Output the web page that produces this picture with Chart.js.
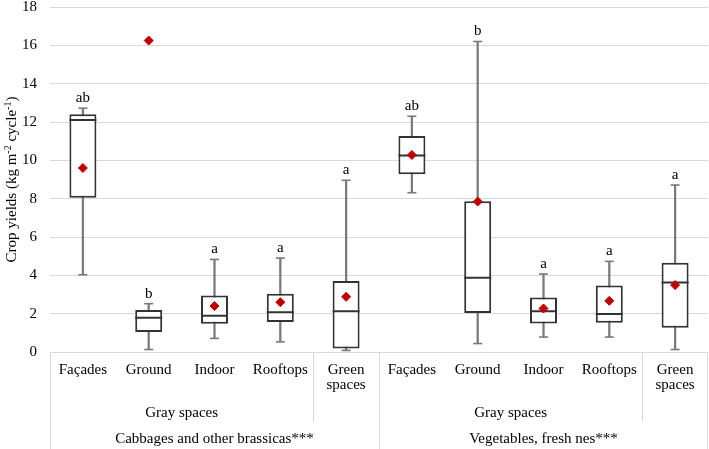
<!DOCTYPE html>
<html>
<head>
<meta charset="utf-8">
<script src="https://cdn.jsdelivr.net/npm/chart.js@4"></script>
<style>
  html, body { margin: 0; padding: 0; background: #fff; }
  #wrap { width: 709px; height: 449px; }
</style>
</head>
<body>
<div id="wrap"><canvas id="chart"></canvas></div>
<script>
// categories (two crop groups, five spaces each)
const categories = ['Façades', 'Ground', 'Indoor', 'Rooftops', ['Green', 'spaces'],
                    'Façades', 'Ground', 'Indoor', 'Rooftops', ['Green', 'spaces']];
const spaceGroups = ['Gray spaces', 'Gray spaces'];
const cropGroups = ['Cabbages and other brassicas***', 'Vegetables, fresh nes***'];

// box plot values
const whiskerMin = [4.03, 0.13, 0.71, 0.53, 0.08, 8.31, 0.44, 0.78, 0.78, 0.13];
const q1         = [8.05, 1.04, 1.47, 1.56, 0.18, 9.27, 2.03, 1.49, 1.52, 1.26];
const median     = [12.11, 1.79, 1.89, 2.08, 2.13, 10.25, 3.87, 2.12, 1.98, 3.63];
const q3         = [12.40, 2.19, 2.95, 3.04, 3.70, 11.27, 7.86, 2.85, 3.47, 4.66];
const whiskerMax = [12.72, 2.52, 4.83, 4.90, 8.96, 12.30, 16.20, 4.07, 4.73, 8.71];
const means      = [9.60, 16.25, 2.40, 2.60, 2.88, 10.28, 7.85, 2.27, 2.67, 3.49];
const letters    = ['ab', 'b', 'a', 'a', 'a', 'ab', 'b', 'a', 'a', 'a'];

const yTicks = [0, 2, 4, 6, 8, 10, 12, 14, 16, 18];

const FONT = '"Liberation Serif", "Times New Roman", serif';
const tableColor = '#d9d9d9';

// letters, y title and the category table below the plot
const extrasPlugin = {
    id: 'extras',
    afterDraw(chart) {
        const ctx = chart.ctx;
        const x = chart.scales.x;
        const y = chart.scales.y;
        const area = chart.chartArea;
        const H = chart.height;

        ctx.save();
        // significance letters
        ctx.font = '15px ' + FONT;
        ctx.fillStyle = '#000';
        ctx.textAlign = 'center';
        ctx.textBaseline = 'middle';
        letters.forEach((l, i) => {
            ctx.fillText(l, x.getPixelForValue(i), y.getPixelForValue(whiskerMax[i]) - 10);
        });

        // table lines
        const half = (x.getPixelForValue(1) - x.getPixelForValue(0)) / 2;
        const edge = i => x.getPixelForValue(i) - half;
        ctx.strokeStyle = tableColor;
        ctx.lineWidth = 1;
        const vline = (px, y2) => {
            ctx.beginPath();
            ctx.moveTo(Math.round(px) + 0.5, area.bottom);
            ctx.lineTo(Math.round(px) + 0.5, y2);
            ctx.stroke();
        };
        vline(edge(0), H);
        vline(edge(4), area.bottom + 70);
        vline(edge(5), H);
        vline(edge(9), area.bottom + 70);
        vline(edge(10) - 1, H);

        // group labels
        ctx.fillStyle = '#000';
        ctx.font = '15px ' + FONT;
        spaceGroups.forEach((g, k) => {
            const cx = (edge(k * 5) + edge(k * 5 + 4)) / 2;
            ctx.fillText(g, cx, area.bottom + 61);
        });
        cropGroups.forEach((g, k) => {
            const cx = (edge(k * 5) + edge(k * 5 + 5)) / 2;
            ctx.fillText(g, cx, area.bottom + 87);
        });

        // y axis title with superscripts
        const parts = [
            ['Crop yields (kg m', false], ['-2', true], [' cycle', false], ['-1', true], [')', false]
        ];
        const big = '15px ' + FONT, small = '10px ' + FONT;
        let total = 0;
        parts.forEach(p => { ctx.font = p[1] ? small : big; total += ctx.measureText(p[0]).width; });
        ctx.translate(12, (area.top + area.bottom) / 2);
        ctx.rotate(-Math.PI / 2);
        ctx.textAlign = 'left';
        ctx.textBaseline = 'middle';
        ctx.fillStyle = '#000';
        let pos = -total / 2;
        parts.forEach(p => {
            ctx.font = p[1] ? small : big;
            ctx.fillText(p[0], pos, p[1] ? -4 : 0);
            pos += ctx.measureText(p[0]).width;
        });
        ctx.restore();
    }
};

const ctx = document.getElementById('chart').getContext('2d');
new Chart(ctx, {
    type: 'bar',
    data: {
        labels: categories,
        datasets: [
            {
                type: 'line',
                label: 'Mean',
                data: means,
                showLine: false,
                pointStyle: 'rectRot',
                pointRadius: 4.5,
                pointBackgroundColor: '#c00000',
                pointBorderColor: '#c00000',
                pointBorderWidth: 1,
                order: 0
            },
            {
                type: 'line',
                label: 'Median',
                data: median,
                showLine: false,
                pointStyle: 'line',
                pointRadius: 13.5,
                pointBorderColor: '#333333',
                pointBorderWidth: 2,
                order: 1
            },
            {
                label: 'Box',
                data: q1.map((v, i) => [v, q3[i]]),
                backgroundColor: '#ffffff',
                borderColor: '#333333',
                borderWidth: 2,
                borderSkipped: false,
                grouped: false,
                barPercentage: 0.41,
                categoryPercentage: 1,
                order: 2
            },
            {
                type: 'line',
                label: 'Cap max',
                data: whiskerMax,
                showLine: false,
                pointStyle: 'line',
                pointRadius: 4.5,
                pointBorderColor: '#7a7a7a',
                pointBorderWidth: 1.6,
                order: 3
            },
            {
                type: 'line',
                label: 'Cap min',
                data: whiskerMin,
                showLine: false,
                pointStyle: 'line',
                pointRadius: 4.5,
                pointBorderColor: '#7a7a7a',
                pointBorderWidth: 1.6,
                order: 3
            },
            {
                label: 'Whisker',
                data: whiskerMin.map((v, i) => [v, whiskerMax[i]]),
                backgroundColor: '#7a7a7a',
                borderWidth: 0,
                grouped: false,
                barThickness: 1.6,
                order: 4
            }
        ]
    },
    options: {
        responsive: true,
        maintainAspectRatio: false,
        animation: false,
        layout: { autoPadding: false, padding: { top: 0, right: 1, left: 0, bottom: 0 } },
        plugins: {
            legend: { display: false },
            tooltip: { enabled: false }
        },
        scales: {
            x: {
                offset: true,
                grid: { display: false },
                border: { display: false },
                ticks: {
                    font: { family: FONT, size: 15, lineHeight: 1.0 },
                    color: '#000',
                    padding: 3,
                    maxRotation: 0,
                    autoSkip: false
                },
                afterFit(scale) { scale.height = 97; }
            },
            y: {
                min: 0,
                max: 18,
                afterBuildTicks(scale) { scale.ticks = yTicks.map(v => ({ value: v })); },
                grid: { color: tableColor, lineWidth: 1, drawTicks: false },
                border: { display: false },
                ticks: {
                    font: { family: FONT, size: 15 },
                    color: '#000',
                    padding: 13
                },
                afterFit(scale) {
                    scale.width = 50;
                    scale.paddingTop = 7;
                    scale.paddingBottom = 0;
                }
            }
        }
    },
    plugins: [extrasPlugin]
});
</script>
</body>
</html>
